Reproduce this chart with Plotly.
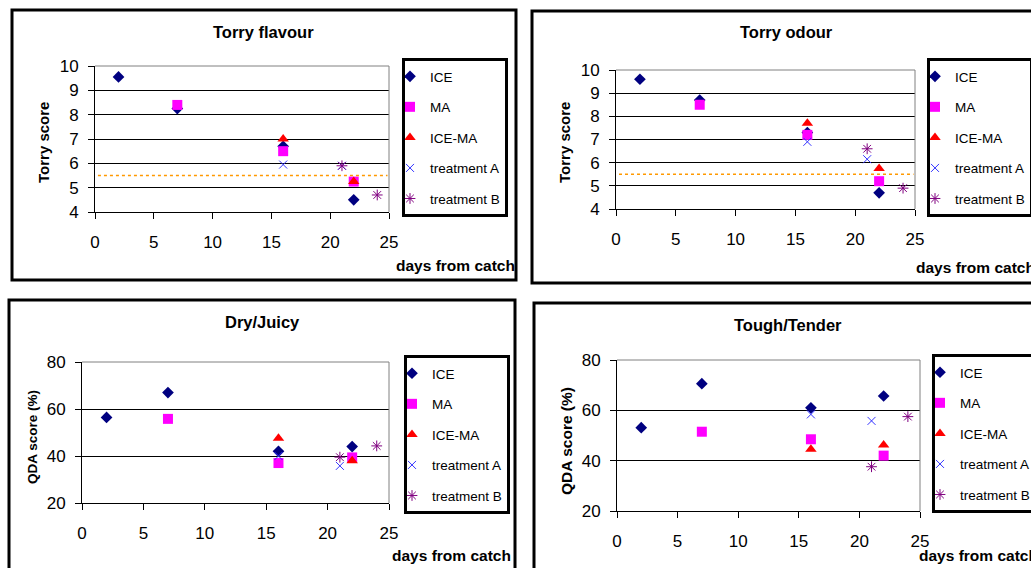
import plotly.graph_objects as go

W, H = 1031, 568

# ---------------- data ----------------
series_names = ["ICE", "MA", "ICE-MA", "treatment A", "treatment B"]

ice_days = [2, 7, 16, 22]
ma_days = [7, 16, 22]
icema_days = [16, 22]
trtA_days = [16, 21]
trtB_days = [21, 24]

flavour_ice = [9.55, 8.25, 6.7, 4.5]
flavour_ma = [8.4, 6.5, 5.25]
flavour_icema = [7.0, 5.25]
flavour_trtA = [5.95, 5.9]
flavour_trtB = [5.9, 4.7]

odour_ice = [9.6, 8.7, 7.3, 4.7]
odour_ma = [8.5, 7.2, 5.2]
odour_icema = [7.7, 5.75]
odour_trtA = [6.9, 6.15]
odour_trtB = [6.6, 4.9]

juicy_ice = [56.4, 67.0, 42.0, 44.0]
juicy_ma = [55.8, 37.0, 39.4]
juicy_icema = [47.6, 38.0]
juicy_trtA = [40.0, 35.8]
juicy_trtB = [39.5, 44.3]

tender_ice = [53.1, 70.6, 61.0, 65.7]
tender_ma = [51.5, 48.5, 42.0]
tender_icema = [44.5, 46.2]
tender_trtA = [58.4, 55.8]
tender_trtB = [37.6, 57.5]

panel_titles = ["Torry flavour", "Torry odour", "Dry/Juicy", "Tough/Tender"]
y_titles = ["Torry score", "Torry score", "QDA score (%)", "QDA score (%)"]
x_title = "days from catch"
x_range = [0, 25]
x_dtick = 5
torry_range = [4, 10]
torry_dtick = 1
qda_range = [20, 80]
qda_dtick = 20
acceptance_limit = 5.5

series_days = [ice_days, ma_days, icema_days, trtA_days, trtB_days]
panel_values = [
    [flavour_ice, flavour_ma, flavour_icema, flavour_trtA, flavour_trtB],
    [odour_ice, odour_ma, odour_icema, odour_trtA, odour_trtB],
    [juicy_ice, juicy_ma, juicy_icema, juicy_trtA, juicy_trtB],
    [tender_ice, tender_ma, tender_icema, tender_trtA, tender_trtB],
]
panel_yranges = [torry_range, torry_range, qda_range, qda_range]
panel_ydticks = [torry_dtick, torry_dtick, qda_dtick, qda_dtick]
panel_limit = [True, True, False, False]

# ---------------- styles ----------------
colors = ["#000080", "#FF00FF", "#FF0000", "#3333FF", "#800080"]
symbols = ["diamond", "square", "triangle-up", "x-thin-open", "asterisk-open"]
sizes = [9, 10, 10, 8, 9]

FONT = "Liberation Sans, Arial, sans-serif"

# pixel geometry per panel
geo = [
    dict(plot=(95, 389, 66, 212), frame=(12, 516, 10, 280), legend=(402, 58),
         title=(263, 32), ytitle=(43, 143, 15), xtitle=(394, 265)),
    dict(plot=(616, 915, 70, 209), frame=(532, 1045, 11, 283), legend=(927, 58),
         title=(786, 32), ytitle=(564, 143, 15), xtitle=(914, 267)),
    dict(plot=(82, 389, 362, 503), frame=(9, 515, 300, 585), legend=(404, 355),
         title=(262, 322), ytitle=(32, 437, 13.5), xtitle=(390, 555)),
    dict(plot=(617, 920, 360, 511), frame=(534, 1045, 303, 585), legend=(932, 354),
         title=(788, 325), ytitle=(566, 441, 15.5), xtitle=(917, 555)),
]


def px_x(v):
    return v / W


def px_y(v):
    return 1 - v / H


fig = go.Figure()
shapes = []
annotations = []
layout = dict(
    width=W, height=H, autosize=False,
    margin=dict(l=0, r=0, t=0, b=0, pad=0, autoexpand=False),
    paper_bgcolor="white", plot_bgcolor="white",
    font=dict(family=FONT, color="black"),
    showlegend=True,
)

for p in range(4):
    g = geo[p]
    sfx = "" if p == 0 else str(p + 1)
    xa, ya = "xaxis" + sfx, "yaxis" + sfx
    xr, yr = "x" + sfx, "y" + sfx
    leg = "legend" + sfx
    x0, x1, y0, y1 = g["plot"]

    layout[xa] = dict(
        domain=[px_x(x0), px_x(x1)], anchor=yr, range=x_range, dtick=x_dtick,
        tick0=0, showgrid=False, zeroline=False, showline=True,
        linecolor="black", linewidth=1, ticks="outside", ticklen=6,
        tickcolor="black", tickfont=dict(size=17, family=FONT),
        ticklabelstandoff=9, fixedrange=True, automargin=False,
    )
    layout[ya] = dict(
        domain=[px_y(y1), px_y(y0)], anchor=xr, range=panel_yranges[p],
        dtick=panel_ydticks[p], showgrid=True, gridcolor="black", gridwidth=1,
        zeroline=False, showline=True, linecolor="black", linewidth=1,
        ticks="outside", ticklen=6, tickcolor="black",
        tickfont=dict(size=17, family=FONT), ticklabelstandoff=6,
        fixedrange=True, automargin=False,
    )

    for s in range(5):
        fig.add_trace(go.Scatter(
            x=series_days[s], y=panel_values[p][s], mode="markers",
            name=series_names[s], xaxis=xr, yaxis=yr, legend=leg,
            legendgroup=f"p{p}s{s}",
            marker=dict(symbol=symbols[s], size=sizes[s], color=colors[s],
                        line=dict(width=1 if s >= 3 else 0, color=colors[s])),
            cliponaxis=False,
        ))

    lx, ly = g["legend"]
    layout[leg] = dict(
        x=px_x(lx), y=px_y(ly), xanchor="left", yanchor="top",
        bgcolor="white", bordercolor="black", borderwidth=3,
        font=dict(size=13.5, family=FONT, color="black"),
        tracegroupgap=10, indentation=-15, itemclick=False,
        itemdoubleclick=False,
    )

    # outer frame
    fx0, fx1, fy0, fy1 = g["frame"]
    shapes.append(dict(type="rect", xref="paper", yref="paper",
                       x0=px_x(fx0), x1=px_x(fx1), y0=px_y(fy1), y1=px_y(fy0),
                       line=dict(color="black", width=3), layer="above"))
    # gray top/right plot border
    shapes.append(dict(type="line", xref=xr + " domain", yref=yr + " domain",
                       x0=0, x1=1, y0=1, y1=1,
                       line=dict(color="#808080", width=1), layer="above"))
    shapes.append(dict(type="line", xref=xr + " domain", yref=yr + " domain",
                       x0=1, x1=1, y0=0, y1=1,
                       line=dict(color="#808080", width=1), layer="above"))
    if panel_limit[p]:
        shapes.append(dict(type="line", xref=xr + " domain", yref=yr,
                           x0=0.01, x1=0.995, y0=acceptance_limit, y1=acceptance_limit,
                           line=dict(color="#FF9900", width=1.5, dash="dot"),
                           layer="above"))

    tx, ty = g["title"]
    annotations.append(dict(text="<b>" + panel_titles[p] + "</b>", xref="paper", yref="paper",
                            x=px_x(tx), y=px_y(ty), xanchor="center", yanchor="middle",
                            showarrow=False, font=dict(size=16.5, family=FONT)))
    yx, yy, ys = g["ytitle"]
    annotations.append(dict(text="<b>" + y_titles[p] + "</b>", xref="paper", yref="paper",
                            x=px_x(yx), y=px_y(yy), xanchor="center", yanchor="middle",
                            textangle=-90, showarrow=False, font=dict(size=ys, family=FONT)))
    ax, ay = g["xtitle"]
    annotations.append(dict(text="<b>" + x_title + "</b>", xref="paper", yref="paper",
                            x=px_x(ax), y=px_y(ay), xanchor="left", yanchor="middle",
                            showarrow=False, font=dict(size=15.5, family=FONT)))

layout["shapes"] = shapes
layout["annotations"] = annotations
fig.update_layout(**layout)

fig.write_html(
    "out.html",
    config=dict(displayModeBar=False),
    post_script="document.body.style.margin='0px';document.body.style.overflow='hidden';",
)
